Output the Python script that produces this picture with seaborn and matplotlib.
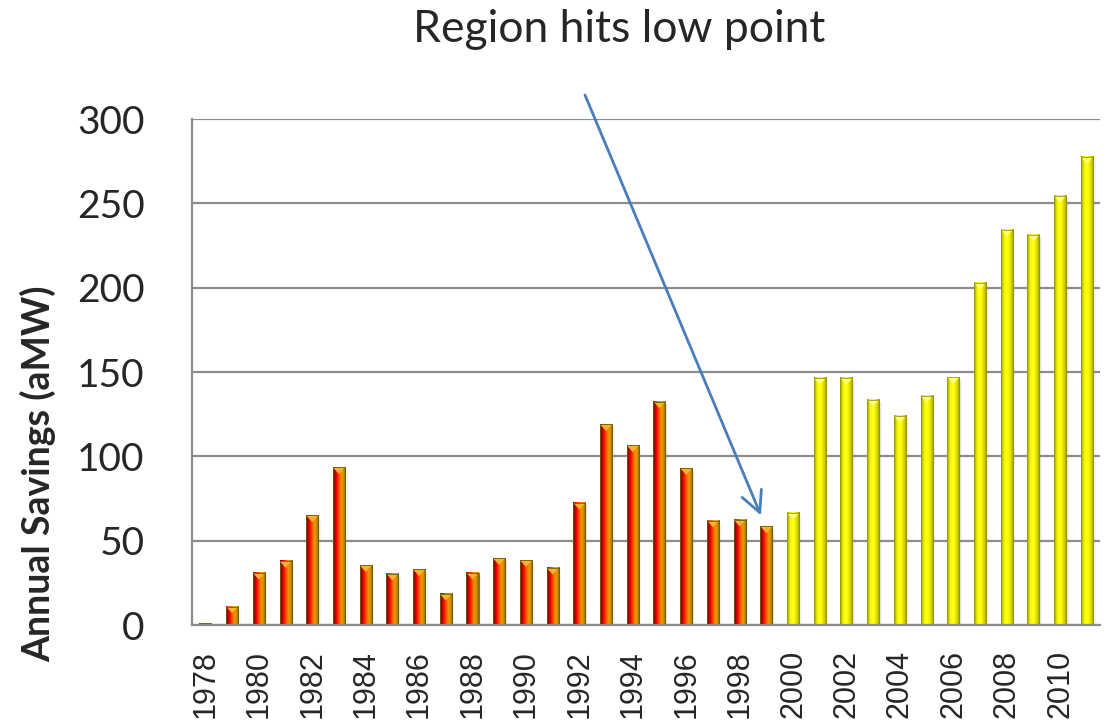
import numpy as np
import pandas as pd
import matplotlib.pyplot as plt
import matplotlib.colors as mcolors
from matplotlib.patches import Polygon, Rectangle
import seaborn as sns

# values (aMW)
years = list(range(1978, 2012))
savings = [1, 11, 31, 38, 65, 93.5, 35.5, 30.5, 33, 18.5, 31, 39.5, 38.5, 34,
           72.5, 119, 106.5, 132.5, 93, 62, 62.5, 58.5,
           66.5, 146.5, 146.5, 133.5, 124, 136, 147, 203, 234.5, 231.5, 254.5, 277.5]
period = ['through 1999'] * 22 + ['2000 on'] * 12
tick_years = years[::2]

df = pd.DataFrame({'year': [str(y) for y in years], 'savings': savings, 'period': period})

sns.set_style('white')
plt.rcParams['font.family'] = ['Lato', 'DejaVu Sans']

fig, ax = plt.subplots(figsize=(11.08, 7.26), dpi=100)
fig.subplots_adjust(left=0.1733, right=0.993, bottom=0.139, top=0.836)

sns.barplot(data=df, x='year', y='savings', hue='period',
            palette={'through 1999': '#ff3000', '2000 on': '#ffff00'},
            saturation=1, dodge=False, width=0.45, legend=False, ax=ax)

red_cmap = mcolors.LinearSegmentedColormap.from_list(
    'redbar', ['#5a0000', '#c00000', '#ff1000', '#ff6000', '#f09a00', '#c89000', '#7a6000'])
yel_cmap = mcolors.LinearSegmentedColormap.from_list(
    'yelbar', ['#8c8c00', '#e0e000', '#ffff00', '#ffff20', '#eeee00', '#cccc00', '#8c8c00'])
grad = np.linspace(0, 1, 64).reshape(1, -1)

for p in list(ax.patches):
    h = p.get_height()
    if not h or np.isnan(h):
        continue
    x0, w = p.get_x(), p.get_width()
    idx = int(round(x0 + w / 2))
    yellow = period[idx] == '2000 on'
    cmap = yel_cmap if yellow else red_cmap
    # soft shadow to the right
    for k, a in [(0.10, 0.09), (0.05, 0.12)]:
        ax.add_patch(Rectangle((x0 + k, 0), w, max(h - 1.5, 0), color='#808080', alpha=a,
                               lw=0, zorder=1.8))
    ax.imshow(grad, cmap=cmap, extent=[x0, x0 + w, 0, h], aspect='auto',
              interpolation='bicubic', zorder=2)
    # bevelled top
    bev = min(4, h)
    ax.add_patch(Polygon([[x0, h], [x0 + w, h], [x0 + w / 2, h - bev]], closed=True,
                         color='#ffff80' if yellow else '#ffb030', lw=0, zorder=2.1))
    p.set_facecolor('none')
    p.set_edgecolor('#9a9a00' if yellow else '#6a6000')
    p.set_linewidth(0.6)
    p.set_zorder(2.2)

ax.set_xlim(-0.5, len(years) - 0.5)
ax.set_ylim(0, 300)
ax.set_yticks(range(0, 301, 50))

ax.set_xticks(range(0, len(years), 2))
ax.set_xticklabels([str(y) for y in tick_years], rotation=90,
                   fontfamily='Liberation Sans', fontsize=22)
ax.set_xticks(np.arange(-0.5, len(years), 1), minor=True)
ax.tick_params(axis='x', which='major', length=0, pad=18)
ax.tick_params(axis='x', which='minor', length=7, width=1.5, color='#8c8c8c')
ax.tick_params(axis='y', length=12, width=1.5, color='#8c8c8c', pad=22, labelsize=28)

ax.yaxis.grid(True, color='#8c8c8c', lw=1.6)
ax.xaxis.grid(False)
ax.set_axisbelow(True)
sns.despine(ax=ax, top=True, right=True)
for s in ['left', 'bottom']:
    ax.spines[s].set_color('#8c8c8c')
    ax.spines[s].set_linewidth(1.6)

ax.set_xlabel('')
ax.set_ylabel('Annual Savings (aMW)', fontsize=27, fontweight='bold')
ax.yaxis.set_label_coords(-0.15, 0.30)

fig.text(619 / 1108, 1 - 30 / 726, 'Region hits low point', fontsize=32,
         ha='center', va='center')
ax.annotate('', xy=(20.8, 65), xycoords='data',
            xytext=(585 / 1108, 1 - 95 / 726), textcoords='figure fraction',
            arrowprops=dict(arrowstyle='->,head_length=0.6,head_width=0.3',
                            color='#4a7ebb', lw=2, mutation_scale=25,
                            shrinkA=0, shrinkB=0),
            annotation_clip=False)

fig.savefig('out.png', dpi=100)
